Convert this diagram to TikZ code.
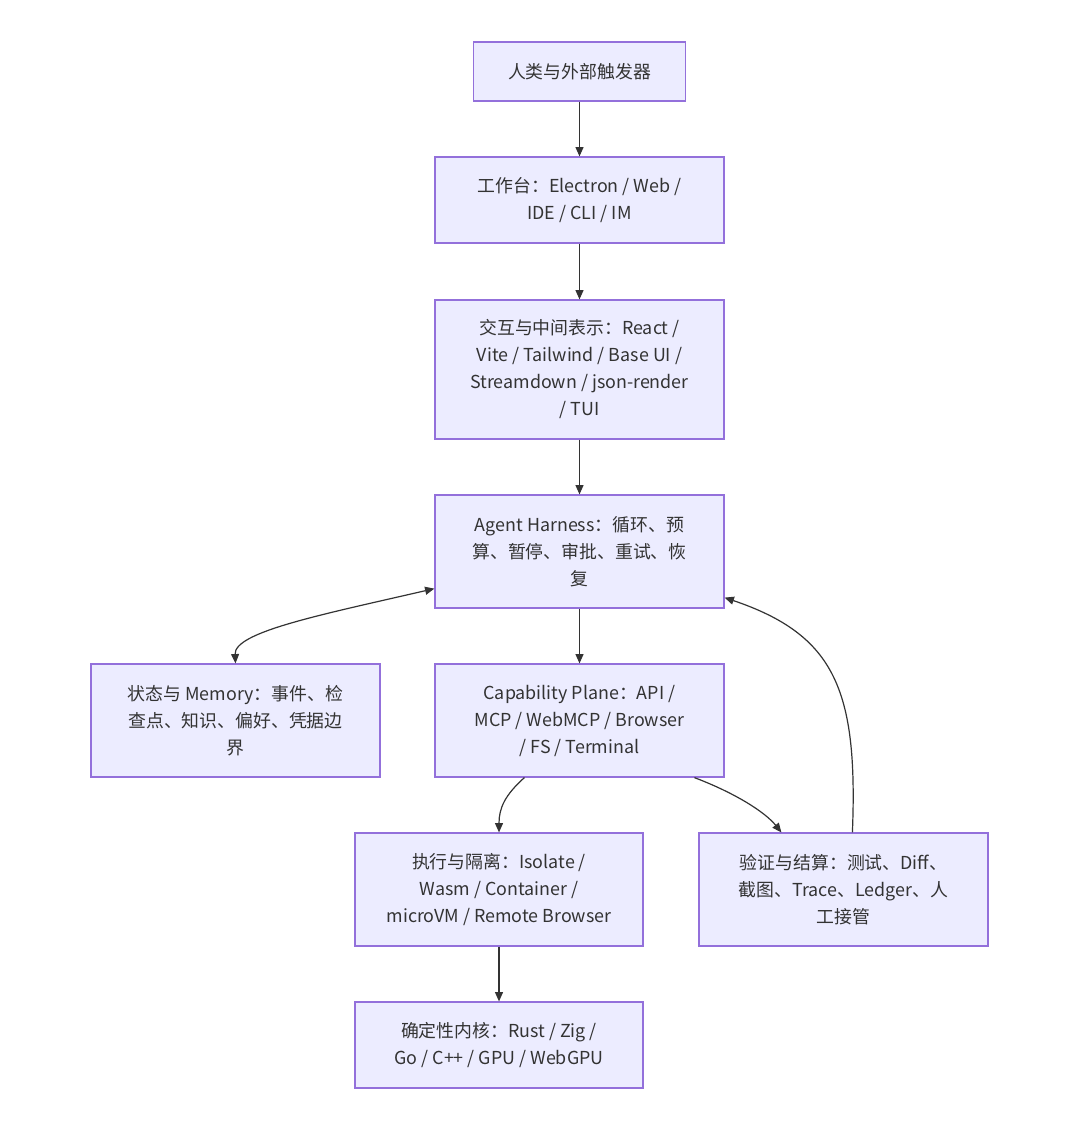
\documentclass[tikz,border=0pt]{standalone}
\usepackage{fontspec}
\setmainfont{Noto Sans CJK SC}
\usetikzlibrary{arrows.meta,calc}
\definecolor{boxfill}{HTML}{ECECFF}
\definecolor{boxline}{HTML}{9370DB}
\definecolor{txt}{HTML}{333333}
\begin{document}
\begin{tikzpicture}[x=0.75pt,y=-0.75pt,
  box/.style={draw=boxline,fill=boxfill,line width=0.9pt,align=center,inner sep=0pt,
    text=txt,font=\fontsize{13.4}{20.25}\selectfont,minimum width=216.75pt},
  arr/.style={draw=txt,line width=0.9pt,-{Triangle[length=7pt,width=6pt]}},
  biarr/.style={draw=txt,line width=0.9pt,{Triangle[length=7pt,width=6pt]}-{Triangle[length=7pt,width=6pt]}}]
\useasboundingbox (0,0) rectangle (1080,1135);
\node[box,minimum width=159pt,minimum height=44.25pt] (n1) at (579.5,71.5) {人类与外部触发器};
\node[box,minimum height=64.5pt] (n2) at (579.5,200) {工作台：Electron / Web /\\IDE / CLI / IM};
\node[box,minimum height=104.25pt] (n3) at (579.5,369.5) {交互与中间表示：React /\\Vite / Tailwind / Base UI /\\Streamdown / json-render\\/ TUI};
\node[box,minimum height=84.75pt] (n4) at (579.5,551.5) {Agent Harness：循环、预\\算、暂停、审批、重试、恢\\复};
\node[box,minimum height=84.75pt] (n5) at (235.5,720.5) {状态与 Memory：事件、检\\查点、知识、偏好、凭据边\\界};
\node[box,minimum height=84.75pt] (n6) at (579.5,720.5) {Capability Plane：API /\\MCP / WebMCP / Browser\\/ FS / Terminal};
\node[box,minimum width=216pt,minimum height=84.75pt] (n7) at (499,889.5) {执行与隔离：Isolate /\\Wasm / Container /\\microVM / Remote Browser};
\node[box,minimum height=84.75pt] (n8) at (843.5,889.5) {验证与结算：测试、Diff、\\截图、Trace、Ledger、人\\工接管};
\node[box,minimum width=216pt,minimum height=64.5pt] (n9) at (499,1045) {确定性内核：Rust / Zig /\\Go / C++ / GPU / WebGPU};
\draw[arr] (n1.south) -- (n2.north);
\draw[arr] (n2.south) -- (n3.north);
\draw[arr] (n3.south) -- (n4.north);
\draw[arr] (n4.south) -- (n6.north);
\draw[arr] (n7.south) -- (n9.north);
\draw[biarr] ($(n4.south west)+(0,-20)$) .. controls (320,615) and (234,632) .. (n5.north);
\draw[arr] ($(n6.south west)+(90,0)$) .. controls (505,795) and (499,808) .. (n7.north);
\draw[arr] ($(n6.south west)+(260,0)$) .. controls (735,793) and (765,812) .. ($(n8.north west)+(83,0)$);
\draw[arr] ($(n8.north west)+(154,0)$) .. controls (858,690) and (835,635) .. ($(n4.south east)+(0,-11)$);
\end{tikzpicture}
\end{document}
